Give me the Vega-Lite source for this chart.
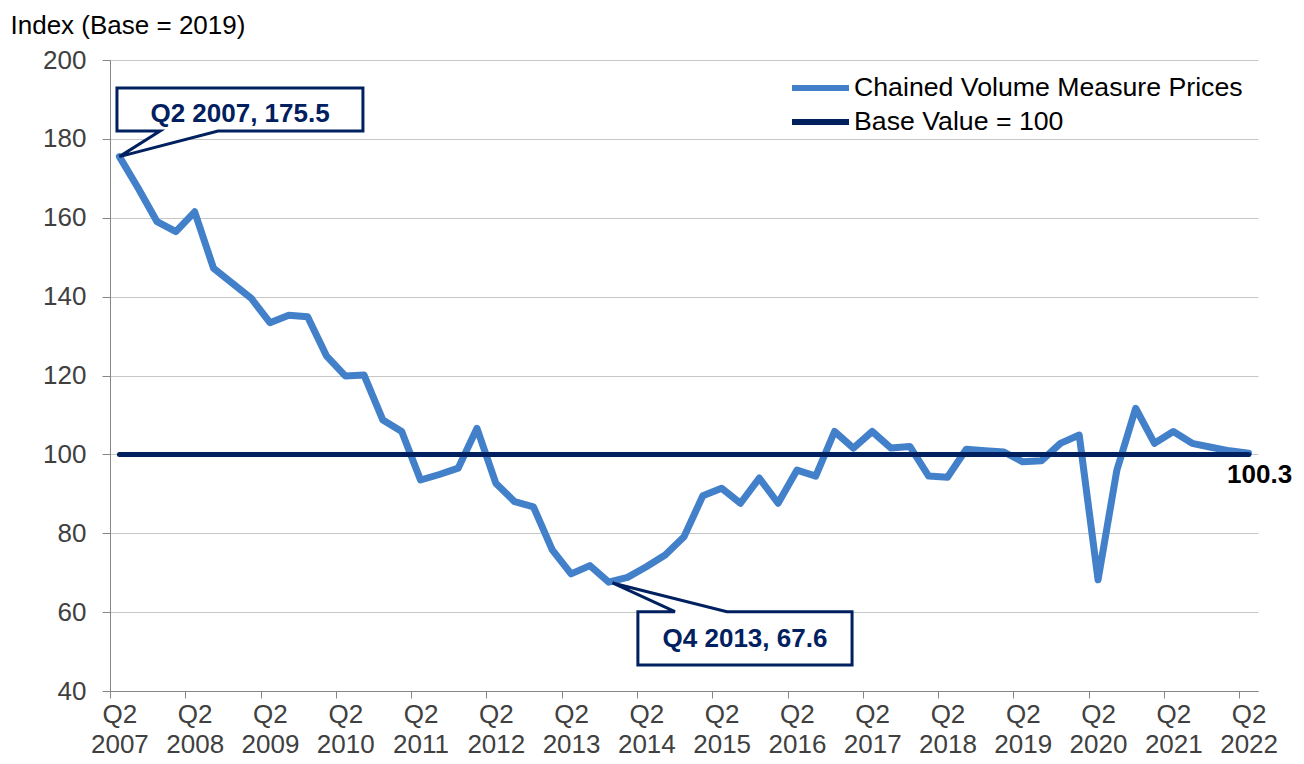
{
  "$schema": "https://vega.github.io/schema/vega-lite/v6.json",
  "width": 1148,
  "height": 631,
  "autosize": {"type": "none"},
  "padding": {"left": 110, "top": 60, "right": 46, "bottom": 73},
  "background": "white",
  "config": {
    "font": "Liberation Sans",
    "view": {"stroke": null}
  },
  "datasets": {
    "main": [
      {"t": 0, "q": "Q2 2007", "v": 175.5, "series": "Chained Volume Measure Prices"},
      {"t": 1, "q": "Q3 2007", "v": 167.5, "series": "Chained Volume Measure Prices"},
      {"t": 2, "q": "Q4 2007", "v": 159.0, "series": "Chained Volume Measure Prices"},
      {"t": 3, "q": "Q1 2008", "v": 156.5, "series": "Chained Volume Measure Prices"},
      {"t": 4, "q": "Q2 2008", "v": 161.5, "series": "Chained Volume Measure Prices"},
      {"t": 5, "q": "Q3 2008", "v": 147.2, "series": "Chained Volume Measure Prices"},
      {"t": 6, "q": "Q4 2008", "v": 143.4, "series": "Chained Volume Measure Prices"},
      {"t": 7, "q": "Q1 2009", "v": 139.6, "series": "Chained Volume Measure Prices"},
      {"t": 8, "q": "Q2 2009", "v": 133.4, "series": "Chained Volume Measure Prices"},
      {"t": 9, "q": "Q3 2009", "v": 135.3, "series": "Chained Volume Measure Prices"},
      {"t": 10, "q": "Q4 2009", "v": 134.9, "series": "Chained Volume Measure Prices"},
      {"t": 11, "q": "Q1 2010", "v": 125.0, "series": "Chained Volume Measure Prices"},
      {"t": 12, "q": "Q2 2010", "v": 119.9, "series": "Chained Volume Measure Prices"},
      {"t": 13, "q": "Q3 2010", "v": 120.1, "series": "Chained Volume Measure Prices"},
      {"t": 14, "q": "Q4 2010", "v": 108.7, "series": "Chained Volume Measure Prices"},
      {"t": 15, "q": "Q1 2011", "v": 105.8, "series": "Chained Volume Measure Prices"},
      {"t": 16, "q": "Q2 2011", "v": 93.5, "series": "Chained Volume Measure Prices"},
      {"t": 17, "q": "Q3 2011", "v": 94.9, "series": "Chained Volume Measure Prices"},
      {"t": 18, "q": "Q4 2011", "v": 96.5, "series": "Chained Volume Measure Prices"},
      {"t": 19, "q": "Q1 2012", "v": 106.6, "series": "Chained Volume Measure Prices"},
      {"t": 20, "q": "Q2 2012", "v": 92.7, "series": "Chained Volume Measure Prices"},
      {"t": 21, "q": "Q3 2012", "v": 88.0, "series": "Chained Volume Measure Prices"},
      {"t": 22, "q": "Q4 2012", "v": 86.7, "series": "Chained Volume Measure Prices"},
      {"t": 23, "q": "Q1 2013", "v": 75.8, "series": "Chained Volume Measure Prices"},
      {"t": 24, "q": "Q2 2013", "v": 69.7, "series": "Chained Volume Measure Prices"},
      {"t": 25, "q": "Q3 2013", "v": 71.8, "series": "Chained Volume Measure Prices"},
      {"t": 26, "q": "Q4 2013", "v": 67.6, "series": "Chained Volume Measure Prices"},
      {"t": 27, "q": "Q1 2014", "v": 68.8, "series": "Chained Volume Measure Prices"},
      {"t": 28, "q": "Q2 2014", "v": 71.5, "series": "Chained Volume Measure Prices"},
      {"t": 29, "q": "Q3 2014", "v": 74.5, "series": "Chained Volume Measure Prices"},
      {"t": 30, "q": "Q4 2014", "v": 79.1, "series": "Chained Volume Measure Prices"},
      {"t": 31, "q": "Q1 2015", "v": 89.5, "series": "Chained Volume Measure Prices"},
      {"t": 32, "q": "Q2 2015", "v": 91.4, "series": "Chained Volume Measure Prices"},
      {"t": 33, "q": "Q3 2015", "v": 87.6, "series": "Chained Volume Measure Prices"},
      {"t": 34, "q": "Q4 2015", "v": 94.0, "series": "Chained Volume Measure Prices"},
      {"t": 35, "q": "Q1 2016", "v": 87.6, "series": "Chained Volume Measure Prices"},
      {"t": 36, "q": "Q2 2016", "v": 96.0, "series": "Chained Volume Measure Prices"},
      {"t": 37, "q": "Q3 2016", "v": 94.5, "series": "Chained Volume Measure Prices"},
      {"t": 38, "q": "Q4 2016", "v": 105.8, "series": "Chained Volume Measure Prices"},
      {"t": 39, "q": "Q1 2017", "v": 101.6, "series": "Chained Volume Measure Prices"},
      {"t": 40, "q": "Q2 2017", "v": 105.8, "series": "Chained Volume Measure Prices"},
      {"t": 41, "q": "Q3 2017", "v": 101.6, "series": "Chained Volume Measure Prices"},
      {"t": 42, "q": "Q4 2017", "v": 102.0, "series": "Chained Volume Measure Prices"},
      {"t": 43, "q": "Q1 2018", "v": 94.5, "series": "Chained Volume Measure Prices"},
      {"t": 44, "q": "Q2 2018", "v": 94.2, "series": "Chained Volume Measure Prices"},
      {"t": 45, "q": "Q3 2018", "v": 101.3, "series": "Chained Volume Measure Prices"},
      {"t": 46, "q": "Q4 2018", "v": 100.9, "series": "Chained Volume Measure Prices"},
      {"t": 47, "q": "Q1 2019", "v": 100.6, "series": "Chained Volume Measure Prices"},
      {"t": 48, "q": "Q2 2019", "v": 98.1, "series": "Chained Volume Measure Prices"},
      {"t": 49, "q": "Q3 2019", "v": 98.4, "series": "Chained Volume Measure Prices"},
      {"t": 50, "q": "Q4 2019", "v": 102.8, "series": "Chained Volume Measure Prices"},
      {"t": 51, "q": "Q1 2020", "v": 104.9, "series": "Chained Volume Measure Prices"},
      {"t": 52, "q": "Q2 2020", "v": 68.2, "series": "Chained Volume Measure Prices"},
      {"t": 53, "q": "Q3 2020", "v": 96.0, "series": "Chained Volume Measure Prices"},
      {"t": 54, "q": "Q4 2020", "v": 111.7, "series": "Chained Volume Measure Prices"},
      {"t": 55, "q": "Q1 2021", "v": 102.8, "series": "Chained Volume Measure Prices"},
      {"t": 56, "q": "Q2 2021", "v": 105.8, "series": "Chained Volume Measure Prices"},
      {"t": 57, "q": "Q3 2021", "v": 102.8, "series": "Chained Volume Measure Prices"},
      {"t": 58, "q": "Q4 2021", "v": 101.8, "series": "Chained Volume Measure Prices"},
      {"t": 59, "q": "Q1 2022", "v": 100.9, "series": "Chained Volume Measure Prices"},
      {"t": 60, "q": "Q2 2022", "v": 100.3, "series": "Chained Volume Measure Prices"}
    ],
    "base": [
      {"t": 0, "q": "Q2 2007", "v": 100, "series": "Base Value = 100"},
      {"t": 60, "q": "Q2 2022", "v": 100, "series": "Base Value = 100"}
    ],
    "callouts": [
      {"id": "a", "o": 1, "t": -0.13, "v": 192.9},
      {"id": "a", "o": 2, "t": 12.94, "v": 192.9},
      {"id": "a", "o": 3, "t": 12.94, "v": 182.0},
      {"id": "a", "o": 4, "t": 5.24, "v": 182.0},
      {"id": "a", "o": 5, "t": 0, "v": 175.5},
      {"id": "a", "o": 6, "t": 2.16, "v": 182.0},
      {"id": "a", "o": 7, "t": -0.13, "v": 182.0},
      {"id": "a", "o": 8, "t": -0.13, "v": 192.9},
      {"id": "b", "o": 1, "t": 27.55, "v": 60.1},
      {"id": "b", "o": 2, "t": 29.52, "v": 60.1},
      {"id": "b", "o": 3, "t": 26.2, "v": 67.4},
      {"id": "b", "o": 4, "t": 32.28, "v": 60.1},
      {"id": "b", "o": 5, "t": 38.93, "v": 60.1},
      {"id": "b", "o": 6, "t": 38.93, "v": 46.6},
      {"id": "b", "o": 7, "t": 27.55, "v": 46.6},
      {"id": "b", "o": 8, "t": 27.55, "v": 60.1}
    ],
    "calloutText": [
      {"t": 6.41, "v": 184.2, "label": "Q2 2007, 175.5"},
      {"t": 33.24, "v": 51.1, "label": "Q4 2013, 67.6"}
    ],
    "endLabel": [
      {"t": 60, "v": 100.3}
    ]
  },
  "layer": [
    {
      "data": {"name": "main"},
      "mark": {"type": "line", "strokeWidth": 7, "strokeCap": "round", "strokeJoin": "round"},
      "encoding": {
        "x": {
          "field": "t", "type": "quantitative",
          "scale": {"domain": [-0.5, 60.5], "nice": false, "zero": false},
          "axis": {
            "title": null,
            "values": [-0.5, 3.5, 7.5, 11.5, 15.5, 19.5, 23.5, 27.5, 31.5, 35.5, 39.5, 43.5, 47.5, 51.5, 55.5, 59.5],
            "labelExpr": "['Q2', '' + (2007 + (datum.value + 0.5) / 4)]",
            "labelOffset": 9.41,
            "labelFlush": false,
            "labelOverlap": false,
            "labelFontSize": 26,
            "labelColor": "#404040",
            "labelPadding": 3,
            "labelLineHeight": 30,
            "labelBaseline": "top",
            "tickSize": 7,
            "tickColor": "#868686",
            "domainColor": "#868686",
            "grid": false
          }
        },
        "y": {
          "field": "v", "type": "quantitative",
          "scale": {"domain": [40, 200], "nice": false, "zero": false},
          "axis": {
            "title": "Index (Base = 2019)",
            "titleAngle": 0,
            "titleX": -100,
            "titleY": -27,
            "titleAlign": "left",
            "titleBaseline": "alphabetic",
            "titleFontSize": 26,
            "titleFontWeight": "normal",
            "titleColor": "#000000",
            "values": [40, 60, 80, 100, 120, 140, 160, 180, 200],
            "labelFontSize": 26,
            "labelColor": "#404040",
            "labelPadding": 16,
            "tickSize": 8,
            "tickColor": "#868686",
            "domainColor": "#868686",
            "grid": true,
            "gridColor": "#c6c6c6",
            "gridWidth": 1
          }
        },
        "color": {
          "field": "series", "type": "nominal",
          "scale": {
            "domain": ["Chained Volume Measure Prices", "Base Value = 100"],
            "range": ["#4280CA", "#002060"]
          },
          "legend": {
            "title": null,
            "orient": "none",
            "legendX": 679,
            "legendY": 15,
            "padding": 0,
            "symbolType": "stroke",
            "symbolSize": 3249,
            "symbolStrokeWidth": 6,
            "labelFontSize": 26.7,
            "labelColor": "#000000",
            "labelOffset": 2,
            "labelLimit": 600,
            "clipHeight": 26,
            "rowPadding": 7
          }
        }
      }
    },
    {
      "data": {"name": "base"},
      "mark": {"type": "line", "strokeWidth": 5, "strokeCap": "round"},
      "encoding": {
        "x": {"field": "t", "type": "quantitative"},
        "y": {"field": "v", "type": "quantitative"},
        "color": {"field": "series", "type": "nominal"}
      }
    },
    {
      "data": {"name": "callouts"},
      "mark": {"type": "line", "stroke": "#002060", "fill": "white", "strokeWidth": 3, "strokeCap": "square", "strokeJoin": "miter"},
      "encoding": {
        "x": {"field": "t", "type": "quantitative"},
        "y": {"field": "v", "type": "quantitative"},
        "detail": {"field": "id", "type": "nominal"},
        "order": {"field": "o", "type": "quantitative"}
      }
    },
    {
      "data": {"name": "calloutText"},
      "mark": {"type": "text", "fontSize": 26, "fontWeight": "bold", "color": "#002060", "align": "center", "baseline": "alphabetic"},
      "encoding": {
        "x": {"field": "t", "type": "quantitative"},
        "y": {"field": "v", "type": "quantitative"},
        "text": {"field": "label", "type": "nominal"}
      }
    },
    {
      "data": {"name": "endLabel"},
      "mark": {"type": "text", "fontSize": 26, "fontWeight": "bold", "color": "#000000", "align": "center", "baseline": "alphabetic", "dx": 11, "dy": 30},
      "encoding": {
        "x": {"field": "t", "type": "quantitative"},
        "y": {"field": "v", "type": "quantitative"},
        "text": {"field": "v", "type": "quantitative", "format": ".1f"}
      }
    }
  ]
}
